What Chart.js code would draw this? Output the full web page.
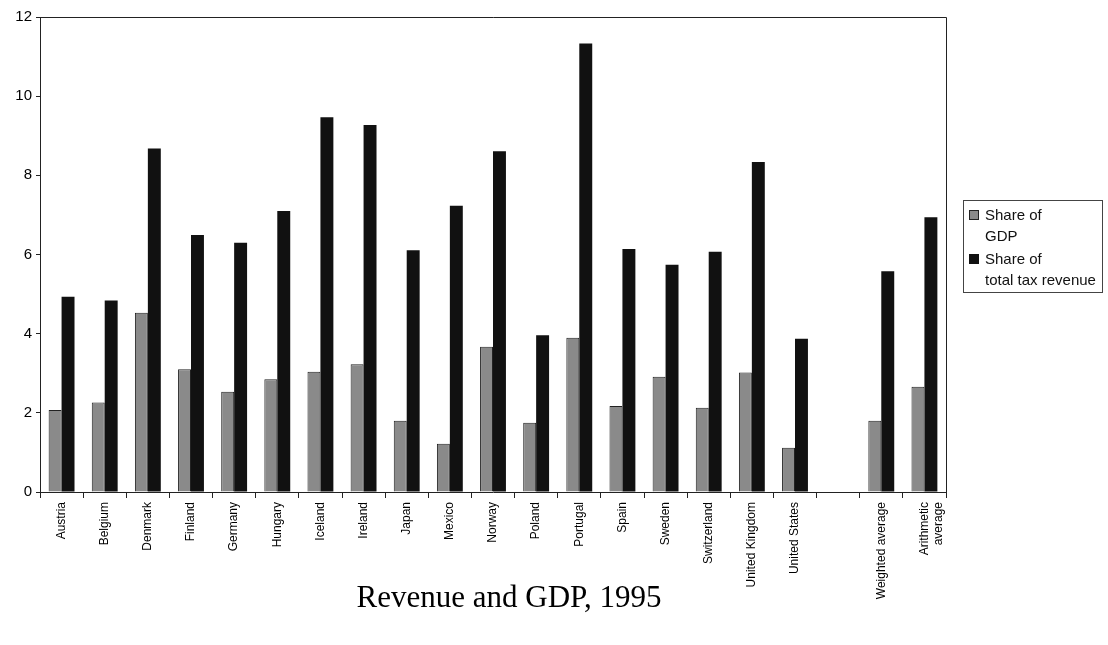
<!DOCTYPE html>
<html>
<head>
<meta charset="utf-8">
<script src="https://cdn.jsdelivr.net/npm/chart.js@4/dist/chart.umd.min.js"></script>
<style>
  html, body { margin: 0; padding: 0; background: #fff; }
  #wrap { position: relative; width: 1108px; height: 645px; overflow: hidden; }
  #c { position: absolute; left: 0; top: 0; }
  #legend {
    position: absolute; left: 963px; top: 200px; width: 140px; height: 93px;
    border: 1px solid #444; font-family: "Liberation Sans", Arial, sans-serif;
    font-size: 15px; color: #111; box-sizing: border-box;
  }
  .item { position: absolute; left: 5px; line-height: 21px; }
  .sw { position: absolute; left: 0; top: 6px; width: 10px; height: 10px; box-sizing: border-box; }
  .txt { margin-left: 16px; white-space: nowrap; }
  #title {
    position: absolute; left: 0; width: 1018px; top: 579px; text-align: center;
    font-family: "Liberation Serif", "Times New Roman", serif; font-size: 31px; color: #000;
  }
</style>
</head>
<body>
<div id="wrap">
  <canvas id="c" width="1108" height="645"></canvas>
  <div id="legend">
    <div class="item" style="top:3px"><span class="sw" style="background:#8a8a8a;border:1px solid #222"></span><div class="txt">Share of<br>GDP</div></div>
    <div class="item" style="top:47px"><span class="sw" style="background:#111"></span><div class="txt">Share of<br>total tax revenue</div></div>
  </div>
  <div id="title">Revenue and GDP, 1995</div>
</div>
<script>
const categories = ["Austria", "Belgium", "Denmark", "Finland", "Germany", "Hungary", "Iceland", "Ireland", "Japan", "Mexico", "Norway", "Poland", "Portugal", "Spain", "Sweden", "Switzerland", "United Kingdom", "United States", "", "Weighted average", ["Arithmetic", "average"]];
const shareOfGDP = [2.07, 2.26, 4.53, 3.10, 2.53, 2.85, 3.04, 3.23, 1.80, 1.22, 3.67, 1.75, 3.90, 2.17, 2.91, 2.13, 3.02, 1.12, null, 1.80, 2.66];
const shareOfTaxRevenue = [4.93, 4.84, 8.68, 6.49, 6.30, 7.10, 9.47, 9.27, 6.11, 7.23, 8.61, 3.96, 11.33, 6.14, 5.74, 6.07, 8.34, 3.87, null, 5.58, 6.94];
const yTicks = [0, 2, 4, 6, 8, 10, 12];

const frame = {
  id: 'frame',
  afterDraw(chart) {
    const { ctx, chartArea: a } = chart;
    ctx.save();
    ctx.strokeStyle = '#222';
    ctx.lineWidth = 1;
    ctx.beginPath();
    ctx.moveTo(a.left, a.top + 0.5);
    ctx.lineTo(a.right + 0.5, a.top + 0.5);
    ctx.lineTo(a.right + 0.5, a.bottom);
    ctx.stroke();
    ctx.restore();
  }
};

new Chart(document.getElementById('c'), {
  type: 'bar',
  data: {
    labels: categories,
    datasets: [
      { label: 'Share of GDP', data: shareOfGDP, backgroundColor: '#8a8a8a', borderColor: '#222', borderWidth: 1 },
      { label: 'Share of total tax revenue', data: shareOfTaxRevenue, backgroundColor: '#111', borderColor: '#111', borderWidth: 0 }
    ]
  },
  options: {
    responsive: false,
    animation: false,
    datasets: { bar: { categoryPercentage: 0.6, barPercentage: 1.0 } },
    layout: { padding: { left: 0, right: 162, top: 17, bottom: 0 } },
    plugins: { legend: { display: false }, title: { display: false }, tooltip: { enabled: false } },
    scales: {
      y: {
        min: 0, max: 12,
        afterBuildTicks: s => { s.ticks = yTicks.map(v => ({ value: v })); },
        ticks: { color: '#000', font: { family: '"Liberation Sans", Arial, sans-serif', size: 15 }, padding: 4 },
        grid: { drawOnChartArea: false, tickLength: 4, color: '#222' },
        border: { color: '#222', width: 1 },
        afterFit: s => { s.width = 40; }
      },
      x: {
        ticks: { color: '#000', font: { family: '"Liberation Sans", Arial, sans-serif', size: 12 }, maxRotation: 90, minRotation: 90, autoSkip: false, padding: 4 },
        grid: { drawOnChartArea: false, tickLength: 6, offset: true, color: '#222' },
        border: { color: '#222', width: 1 },
        afterFit: s => { s.height = 153; }
      }
    }
  },
  plugins: [frame]
});
</script>
</body>
</html>
